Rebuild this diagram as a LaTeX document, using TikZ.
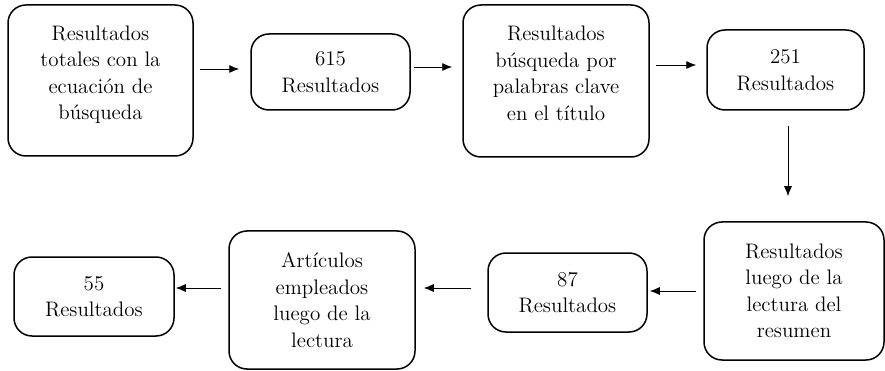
\documentclass[tikz,border=0pt]{standalone}
\usepackage{fontspec}
\setmainfont{lmroman12-regular}[Extension=.otf]
\usepackage{tikz}
\usetikzlibrary{arrows.meta}

\begin{document}
\begin{tikzpicture}[x=1pt,y=-1pt]
 \tikzstyle{caja}=[draw, rounded corners=18pt, line width=1.5pt, align=center, inner sep=0pt, font=\fontsize{21}{26.5}\selectfont]
 \tikzstyle{alta}=[text depth=16pt]
 \tikzstyle{flecha}=[->, >={Latex[length=10pt, width=8pt]}, line width=0.9pt]
 \useasboundingbox (0,0) rectangle (885,371);
 %
 \node[caja, alta, minimum width=185pt, minimum height=151pt] (Tot) at (100.5, 80.5) {Resultados\\totales con la\\ecuación de\\búsqueda};
 \node[caja, minimum width=159pt, minimum height=76pt] (R615) at (330.5, 72) {615\\Resultados};
 \node[caja, alta, minimum width=186pt, minimum height=152pt] (Tit) at (556, 81) {Resultados\\búsqueda por\\palabras clave\\en el título};
 \node[caja, minimum width=157pt, minimum height=80pt] (R251) at (785.5, 70) {251\\Resultados};
 %
 \node[caja, minimum width=180pt, minimum height=138pt] (Res) at (794, 291) {Resultados\\luego de la\\lectura del\\resumen};
 \node[caja, minimum width=159pt, minimum height=79pt] (R87) at (567.5, 292.5) {87\\Resultados};
 \node[caja, minimum width=186pt, minimum height=138pt] (Art) at (322, 300) {Artículos\\empleados\\luego de la\\lectura};
 \node[caja, minimum width=160pt, minimum height=79pt] (R55) at (94, 296.5) {55\\Resultados};
 %%
 \draw[flecha, shorten <=6pt, shorten >=11pt] (Tot.east |- 0,69) -- (R615.west |- 0,69);
 \draw[flecha, shorten <=3pt, shorten >=10pt] (R615.east |- 0,67) -- (Tit.west |- 0,67);
 \draw[flecha, shorten <=6pt, shorten >=10pt] (Tit.east |- 0,65) -- (R251.west |- 0,65);
 \draw[flecha, shorten <=15pt, shorten >=25pt] (R251.south -| 788,0) -- (Res.north -| 788,0);
 \draw[flecha, shorten <=7pt, shorten >=2pt] (Res.west |- 0,291) -- (R87.east |- 0,291);
 \draw[flecha, shorten <=16pt, shorten >=8pt] (R87.west |- 0,288) -- (Art.east |- 0,288);
 \draw[flecha, shorten <=7pt, shorten >=1pt] (Art.west |- 0,288) -- (R55.east |- 0,288);
\end{tikzpicture}
\end{document}
